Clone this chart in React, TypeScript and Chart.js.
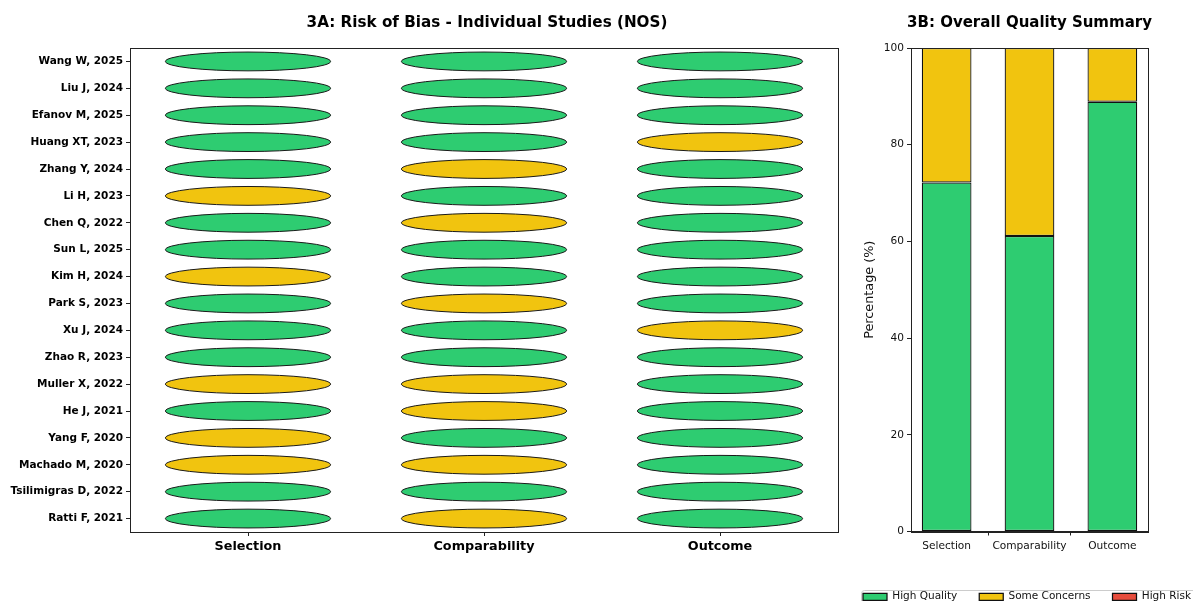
import React, { useEffect, useRef } from 'react';
import { Chart, registerables } from 'chart.js';

Chart.register(...registerables);

const FONT = "'DejaVu Sans', sans-serif";

// ---- data ----
const studies = [
  'Wang W, 2025', 'Liu J, 2024', 'Efanov M, 2025', 'Huang XT, 2023', 'Zhang Y, 2024',
  'Li H, 2023', 'Chen Q, 2022', 'Sun L, 2025', 'Kim H, 2024', 'Park S, 2023',
  'Xu J, 2024', 'Zhao R, 2023', 'Muller X, 2022', 'He J, 2021', 'Yang F, 2020',
  'Machado M, 2020', 'Tsilimigras D, 2022', 'Ratti F, 2021',
];
const domains = ['Selection', 'Comparability', 'Outcome'];
const ratingLevels = ['High Quality', 'Some Concerns', 'High Risk'];
const ratingColors = ['#2ecc71', '#f1c40f', '#e74c3c'];

// H = High Quality, S = Some Concerns (top to bottom, same order as studies)
const selectionRatings = ['H', 'H', 'H', 'H', 'H', 'S', 'H', 'H', 'S', 'H', 'H', 'H', 'S', 'H', 'S', 'S', 'H', 'H'];
const comparabilityRatings = ['H', 'H', 'H', 'H', 'S', 'H', 'S', 'H', 'H', 'S', 'H', 'H', 'S', 'S', 'H', 'S', 'H', 'S'];
const outcomeRatings = ['H', 'H', 'H', 'S', 'H', 'H', 'H', 'H', 'H', 'H', 'S', 'H', 'H', 'H', 'H', 'H', 'H', 'H'];
const ratingCodes = ['H', 'S', 'R'];

const highQualityPct = [72.2, 61.1, 88.9];
const someConcernsPct = [27.8, 38.9, 11.1];
const highRiskPct = [0, 0, 0];
const percentTicks = [0, 20, 40, 60, 80, 100];

// ---- plugins ----
const ellipsePlugin = {
  id: 'ellipses',
  afterDatasetsDraw(chart: any) {
    const { ctx } = chart;
    const x = chart.scales.x;
    const y = chart.scales.y;
    const r = 0.35;
    const rx = Math.abs(x.getPixelForValue(r) - x.getPixelForValue(0));
    const ry = Math.abs(y.getPixelForValue(r) - y.getPixelForValue(0));
    chart.data.datasets.forEach((ds: any, i: number) => {
      const meta = chart.getDatasetMeta(i);
      meta.data.forEach((el: any) => {
        ctx.save();
        ctx.beginPath();
        ctx.ellipse(el.x, el.y, rx, ry, 0, 0, Math.PI * 2);
        ctx.fillStyle = ds.backgroundColor;
        ctx.fill();
        ctx.lineWidth = 1;
        ctx.strokeStyle = '#1a1a1a';
        ctx.stroke();
        ctx.restore();
      });
    });
  },
};

const framePlugin = {
  id: 'frame',
  afterDatasetsDraw(chart: any) {
    const { ctx, chartArea: a } = chart;
    ctx.save();
    ctx.strokeStyle = '#222';
    ctx.lineWidth = 1;
    ctx.strokeRect(Math.round(a.left) + 0.5, Math.round(a.top) + 0.5, Math.round(a.right - a.left), Math.round(a.bottom - a.top));
    ctx.restore();
  },
};

const panelTitlePlugin = {
  id: 'panelTitle',
  afterDraw(chart: any, _args: any, opts: any) {
    const { ctx, chartArea: a } = chart;
    ctx.save();
    ctx.font = `bold ${opts.size}px ${FONT}`;
    ctx.fillStyle = '#000';
    ctx.textAlign = 'center';
    ctx.textBaseline = 'middle';
    ctx.fillText(opts.text, (a.left + a.right) / 2 + (opts.dx || 0), a.top - 25);
    ctx.restore();
  },
};

const legendFramePlugin = {
  id: 'legendFrame',
  afterDraw(chart: any) {
    const lg = chart.legend;
    if (!lg || !lg.legendHitBoxes || !lg.legendHitBoxes.length) return;
    const hb = lg.legendHitBoxes;
    const left = hb[0].left - 2;
    const right = hb[hb.length - 1].left + hb[hb.length - 1].width + 6;
    const top = hb[0].top - 2;
    const { ctx } = chart;
    ctx.save();
    ctx.strokeStyle = '#cccccc';
    ctx.lineWidth = 1;
    ctx.beginPath();
    if ((ctx as any).roundRect) {
      (ctx as any).roundRect(Math.round(left) + 0.5, Math.round(top) + 0.5, right - left, 30, 3);
    } else {
      ctx.rect(Math.round(left) + 0.5, Math.round(top) + 0.5, right - left, 30);
    }
    ctx.stroke();
    ctx.restore();
  },
};

const axisGrid = { display: true, drawOnChartArea: false, drawTicks: true, tickLength: 4, color: '#222', lineWidth: 1 };
const axisBorder = { display: true, color: '#222', width: 1 };

export default function App() {
  const leftRef = useRef<HTMLCanvasElement>(null);
  const rightRef = useRef<HTMLCanvasElement>(null);

  useEffect(() => {
    const n = studies.length;
    const domainRatings = [selectionRatings, comparabilityRatings, outcomeRatings];
    const leftDatasets = ratingLevels.map((label, li) => {
      const pts: { x: number; y: number }[] = [];
      domainRatings.forEach((arr, di) => {
        arr.forEach((code, si) => {
          if (code === ratingCodes[li]) pts.push({ x: di, y: n - 1 - si });
        });
      });
      return {
        label,
        data: pts,
        backgroundColor: ratingColors[li],
        borderColor: '#1a1a1a',
        pointRadius: 0,
        pointHoverRadius: 0,
      };
    });

    const c1 = new Chart(leftRef.current as HTMLCanvasElement, {
      type: 'scatter',
      data: { datasets: leftDatasets as any },
      plugins: [ellipsePlugin, framePlugin, panelTitlePlugin],
      options: {
        responsive: false,
        animation: false,
        events: [],
        layout: { padding: { top: 48, right: 22, left: 0, bottom: 0 } },
        plugins: {
          legend: { display: false },
          tooltip: { enabled: false },
          panelTitle: { text: '3A: Risk of Bias - Individual Studies (NOS)', size: 15.2, dx: 3 },
        } as any,
        scales: {
          x: {
            type: 'linear',
            min: -0.5,
            max: 2.5,
            grid: axisGrid,
            border: axisBorder,
            afterBuildTicks: (s: any) => { s.ticks = domains.map((_, i) => ({ value: i })); },
            afterFit: (s: any) => { s.height = 69; },
            ticks: {
              autoSkip: false,
              maxRotation: 0,
              padding: 3,
              color: '#000',
              font: { family: FONT, size: 12.8, weight: 'bold' },
              callback: (v: any) => domains[Number(v)] ?? '',
            },
          },
          y: {
            type: 'linear',
            min: -0.5,
            max: n - 0.5,
            grid: axisGrid,
            border: axisBorder,
            afterBuildTicks: (s: any) => { s.ticks = studies.map((_, i) => ({ value: i })); },
            afterFit: (s: any) => { s.width = 130; },
            ticks: {
              autoSkip: false,
              padding: 3,
              color: '#000',
              font: { family: FONT, size: 10.5, weight: 'bold' },
              callback: (v: any) => studies[n - 1 - Number(v)] ?? '',
            },
          },
        },
      } as any,
    });

    const pctSeries = [highQualityPct, someConcernsPct, highRiskPct];
    const rightDatasets = ratingLevels.map((label, li) => ({
      label,
      data: domains.map((_, i) => ({ x: i, y: pctSeries[li][i] })),
      backgroundColor: ratingColors[li],
      borderColor: '#111',
      borderWidth: 1.25,
      borderSkipped: false,
      barPercentage: 0.6,
      categoryPercentage: 1,
    }));

    const c2 = new Chart(rightRef.current as HTMLCanvasElement, {
      type: 'bar',
      data: { datasets: rightDatasets as any },
      plugins: [framePlugin, panelTitlePlugin, legendFramePlugin],
      options: {
        responsive: false,
        animation: false,
        events: [],
        layout: { padding: { top: 48, right: 0, left: 0, bottom: 0 } },
        plugins: {
          tooltip: { enabled: false },
          panelTitle: { text: '3B: Overall Quality Summary', size: 15 },
          legend: {
            display: true,
            position: 'bottom',
            labels: {
              boxWidth: 24,
              boxHeight: 7,
              padding: 22,
              color: '#111',
              font: { family: FONT, size: 10.5 },
            },
          },
        } as any,
        scales: {
          x: {
            type: 'linear',
            min: -0.43,
            max: 2.43,
            offset: false,
            stacked: true,
            grid: axisGrid,
            border: axisBorder,
            afterBuildTicks: (s: any) => { s.ticks = domains.map((_, i) => ({ value: i })); },
            afterFit: (s: any) => { s.height = 38; },
            ticks: {
              autoSkip: false,
              maxRotation: 0,
              padding: 4,
              color: '#111',
              font: { family: FONT, size: 10.6 },
              callback: (v: any) => domains[Number(v)] ?? '',
            },
          },
          y: {
            type: 'linear',
            min: 0,
            max: 100,
            stacked: true,
            grid: axisGrid,
            border: axisBorder,
            afterBuildTicks: (s: any) => { s.ticks = percentTicks.map((v) => ({ value: v })); },
            afterFit: (s: any) => { s.width = 77; },
            title: {
              display: true,
              text: 'Percentage (%)',
              color: '#111',
              font: { family: FONT, size: 12.8 },
              padding: { top: 28, bottom: 4 },
            },
            ticks: {
              padding: 3,
              color: '#111',
              font: { family: FONT, size: 10.6 },
            },
          },
          y2: {
            type: 'linear',
            position: 'right',
            min: 0,
            max: 100,
            display: true,
            grid: { display: false },
            border: { display: false },
            ticks: { display: false },
            afterFit: (s: any) => { s.width = 72; },
          },
        },
      } as any,
    });

    return () => {
      c1.destroy();
      c2.destroy();
    };
  }, []);

  return (
    <div style={{ position: 'fixed', left: 0, top: 0, width: 1193, height: 601, overflow: 'hidden', background: '#fff' }}>
      <canvas ref={leftRef} width={860} height={601} style={{ position: 'absolute', left: 0, top: 0 }} />
      <canvas ref={rightRef} width={386} height={612} style={{ position: 'absolute', left: 834, top: 0 }} />
    </div>
  );
}
